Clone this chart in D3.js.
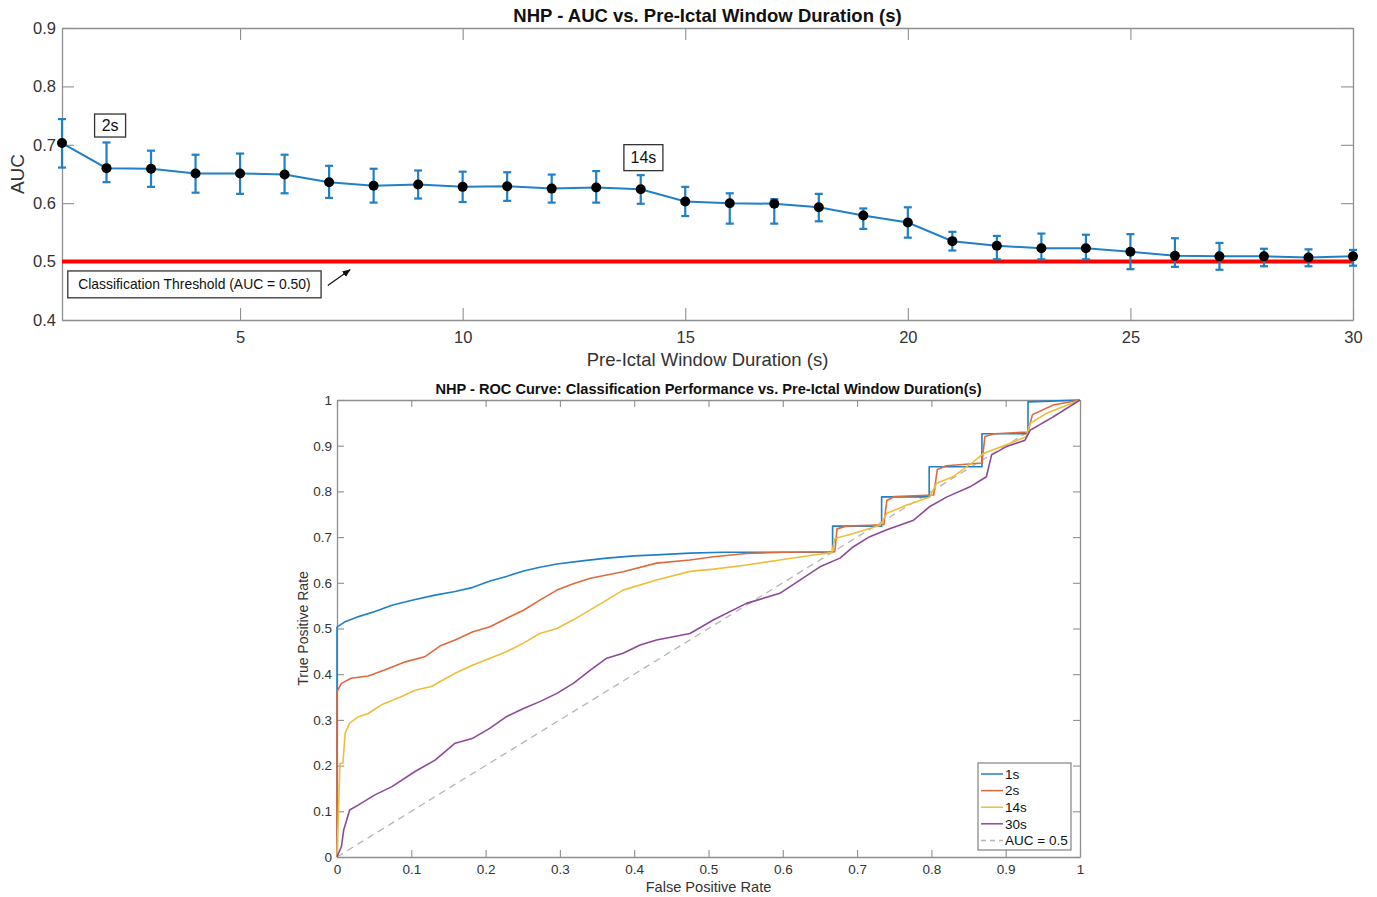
<!DOCTYPE html>
<html><head><meta charset="utf-8">
<script src="https://cdn.jsdelivr.net/npm/d3@7"></script>
<style>
body{margin:0;background:#fff}
text{font-family:"Liberation Sans", Arial, Helvetica, sans-serif}
</style>
</head><body>
<svg id="c" width="1377" height="897"></svg>
<script>
// ---------- Top chart data ----------
const durations = [1,2,3,4,5,6,7,8,9,10,11,12,13,14,15,16,17,18,19,20,21,22,23,24,25,26,27,28,29,30];
const aucMean  = [0.703,0.660,0.659,0.651,0.651,0.649,0.636,0.630,0.632,0.628,0.629,0.625,0.627,0.624,0.603,0.600,0.599,0.593,0.579,0.567,0.535,0.527,0.523,0.523,0.517,0.510,0.509,0.509,0.507,0.509];
const aucUpper = [0.744,0.704,0.690,0.683,0.685,0.683,0.664,0.659,0.656,0.654,0.653,0.649,0.655,0.648,0.628,0.617,0.607,0.616,0.591,0.593,0.551,0.544,0.548,0.546,0.547,0.540,0.532,0.522,0.521,0.520];
const aucLower = [0.661,0.636,0.628,0.618,0.616,0.617,0.609,0.601,0.608,0.602,0.604,0.601,0.601,0.599,0.578,0.565,0.565,0.569,0.556,0.541,0.519,0.504,0.504,0.504,0.487,0.491,0.486,0.492,0.492,0.493];
const topXTicks = [5,10,15,20,25,30];
const topYTicks = [0.4,0.5,0.6,0.7,0.8,0.9];
const thresholdAUC = 0.5;
const topTitle = "NHP - AUC vs. Pre-Ictal Window Duration (s)";
const topXLabel = "Pre-Ictal Window Duration (s)";
const topYLabel = "AUC";
const thresholdLabel = "Classification Threshold (AUC = 0.50)";

// ---------- Bottom chart data (ROC curves: [FPR, TPR]) ----------
const roc1s = [[0,0],[0,0.503],[0.011,0.515],[0.029,0.526],[0.051,0.537],[0.074,0.551],[0.101,0.562],[0.132,0.573],[0.159,0.581],[0.183,0.590],[0.206,0.604],[0.228,0.614],[0.251,0.626],[0.273,0.634],[0.296,0.641],[0.33,0.648],[0.363,0.654],[0.40,0.659],[0.43,0.661],[0.475,0.665],[0.52,0.667],[0.667,0.667],[0.667,0.724],[0.733,0.724],[0.733,0.788],[0.797,0.788],[0.797,0.854],[0.868,0.854],[0.868,0.926],[0.930,0.926],[0.930,0.996],[0.97,0.998],[1,1]];
const roc2s = [[0,0],[0,0.362],[0.006,0.380],[0.019,0.391],[0.042,0.396],[0.064,0.409],[0.092,0.427],[0.118,0.438],[0.139,0.462],[0.159,0.475],[0.183,0.493],[0.206,0.504],[0.228,0.522],[0.251,0.540],[0.273,0.562],[0.296,0.584],[0.318,0.598],[0.341,0.610],[0.385,0.624],[0.43,0.643],[0.475,0.650],[0.507,0.657],[0.551,0.664],[0.60,0.667],[0.670,0.668],[0.673,0.718],[0.685,0.724],[0.736,0.727],[0.740,0.780],[0.750,0.789],[0.803,0.792],[0.808,0.848],[0.820,0.856],[0.868,0.862],[0.872,0.920],[0.885,0.926],[0.930,0.930],[0.936,0.968],[0.964,0.989],[1,1]];
const roc14s = [[0,0],[0.004,0.205],[0.008,0.205],[0.011,0.271],[0.017,0.293],[0.029,0.307],[0.042,0.314],[0.060,0.333],[0.087,0.351],[0.105,0.365],[0.127,0.373],[0.159,0.402],[0.183,0.420],[0.206,0.435],[0.228,0.449],[0.251,0.468],[0.273,0.489],[0.296,0.500],[0.318,0.519],[0.363,0.562],[0.385,0.584],[0.43,0.606],[0.475,0.625],[0.507,0.630],[0.551,0.639],[0.596,0.650],[0.641,0.661],[0.666,0.666],[0.670,0.697],[0.695,0.708],[0.731,0.726],[0.740,0.752],[0.767,0.770],[0.798,0.788],[0.807,0.818],[0.829,0.832],[0.857,0.865],[0.870,0.883],[0.901,0.902],[0.928,0.920],[0.933,0.949],[0.955,0.971],[1,1]];
const roc30s = [[0,0],[0.006,0.023],[0.009,0.059],[0.013,0.081],[0.017,0.103],[0.029,0.114],[0.051,0.136],[0.074,0.154],[0.105,0.187],[0.132,0.212],[0.159,0.249],[0.183,0.260],[0.206,0.282],[0.228,0.307],[0.251,0.325],[0.273,0.340],[0.296,0.358],[0.318,0.380],[0.341,0.409],[0.363,0.435],[0.385,0.446],[0.408,0.464],[0.430,0.475],[0.475,0.489],[0.507,0.519],[0.551,0.555],[0.596,0.577],[0.623,0.606],[0.650,0.635],[0.677,0.654],[0.695,0.679],[0.717,0.701],[0.740,0.716],[0.776,0.737],[0.798,0.767],[0.821,0.788],[0.852,0.810],[0.874,0.832],[0.881,0.880],[0.901,0.898],[0.926,0.912],[0.933,0.934],[0.964,0.963],[1,1]];
const chanceLine = [[0,0],[1,1]];
const rocNames = ["1s","2s","14s","30s"];
const rocColors = ["#1f80c8","#de6a3c","#eebd3a","#8a4a98"];
const rocTicks = [0,0.1,0.2,0.3,0.4,0.5,0.6,0.7,0.8,0.9,1];
const bottomTitle = "NHP - ROC Curve: Classification Performance vs. Pre-Ictal Window Duration(s)";
const bottomXLabel = "False Positive Rate";
const bottomYLabel = "True Positive Rate";
const chanceName = "AUC = 0.5";

const svg = d3.select("#c");
const AX = "#8f8f8f", TXT = "#333";
const fmt = d => String(d);

function frame(g, x, y, xt, yt, tlen, fs) {
  const b = g.append("g").attr("transform", `translate(0,${y.range()[0]})`)
    .call(d3.axisBottom(x).tickValues(xt).tickSize(-tlen).tickSizeOuter(0).tickFormat(fmt));
  const l = g.append("g").attr("transform", `translate(${x.range()[0]},0)`)
    .call(d3.axisLeft(y).tickValues(yt).tickSize(-tlen).tickSizeOuter(0).tickPadding(7).tickFormat(fmt));
  const t = g.append("g").attr("transform", `translate(0,${y.range()[1]})`)
    .call(d3.axisTop(x).tickValues(xt).tickSize(-tlen).tickSizeOuter(0).tickFormat(""));
  const r = g.append("g").attr("transform", `translate(${x.range()[1]},0)`)
    .call(d3.axisRight(y).tickValues(yt).tickSize(-tlen).tickSizeOuter(0).tickFormat(""));
  [b,l,t,r].forEach(a => {
    a.selectAll("path.domain").attr("stroke", AX).attr("stroke-width", 1.3);
    a.selectAll(".tick line").attr("stroke", AX).attr("stroke-width", 1.1);
    a.selectAll(".tick text").attr("fill", TXT).attr("font-size", fs).attr("font-family", '"Liberation Sans", Arial, sans-serif');
  });
  return {b, l};
}

// ================= TOP CHART =================
const T = {l:62, r:1353, t:28, b:320};
const xT = d3.scaleLinear().domain([1,30]).range([T.l, T.r]);
const yT = d3.scaleLinear().domain([0.4,0.9]).range([T.b, T.t]);
const gT = svg.append("g");
const fT = frame(gT, xT, yT, topXTicks, topYTicks, 12, 16.5);
fT.b.selectAll(".tick text").attr("dy","0.71em").attr("y", 11);
fT.l.selectAll(".tick text").attr("x", -6);

gT.append("line").attr("x1", xT(1)).attr("x2", xT(30)).attr("y1", yT(thresholdAUC)).attr("y2", yT(thresholdAUC))
  .attr("stroke", "#ff0000").attr("stroke-width", 4);

const topData = durations.map((d,i) => ({x:d, m:aucMean[i], u:aucUpper[i], lo:aucLower[i]}));
gT.append("path").datum(topData).attr("fill","none").attr("stroke","#1f80c8").attr("stroke-width",2)
  .attr("d", d3.line().x(d=>xT(d.x)).y(d=>yT(d.m)));
const eb = gT.append("g").attr("stroke","#1f80c8").attr("stroke-width",2.2).attr("fill","none");
topData.forEach(d => {
  eb.append("line").attr("x1",xT(d.x)).attr("x2",xT(d.x)).attr("y1",yT(d.u)).attr("y2",yT(d.lo));
  eb.append("line").attr("x1",xT(d.x)-4).attr("x2",xT(d.x)+4).attr("y1",yT(d.u)).attr("y2",yT(d.u));
  eb.append("line").attr("x1",xT(d.x)-4).attr("x2",xT(d.x)+4).attr("y1",yT(d.lo)).attr("y2",yT(d.lo));
});
gT.append("g").selectAll("circle").data(topData).join("circle")
  .attr("cx", d=>xT(d.x)).attr("cy", d=>yT(d.m)).attr("r", 5).attr("fill","#000");

function boxLabel(g, cx, cy, w, h, txt, fs) {
  g.append("rect").attr("x", cx-w/2).attr("y", cy-h/2).attr("width", w).attr("height", h)
    .attr("fill","#fff").attr("stroke","#333").attr("stroke-width",1.3);
  g.append("text").attr("x", cx).attr("y", cy).attr("dy","0.36em").attr("text-anchor","middle")
    .attr("font-size", fs).attr("fill","#111").text(txt);
}
boxLabel(gT, xT(2.08), yT(0.733), 31, 23, "2s", 16);
boxLabel(gT, xT(14.06), yT(0.678), 39, 26, "14s", 16);
boxLabel(gT, (xT(1.13)+xT(6.82))/2, (yT(0.484)+yT(0.438))/2, xT(6.82)-xT(1.13), yT(0.438)-yT(0.484), thresholdLabel, 13.9);
svg.append("defs").append("marker").attr("id","ah").attr("viewBox","0 0 10 10").attr("refX",9).attr("refY",5)
  .attr("markerWidth",7).attr("markerHeight",7).attr("orient","auto")
  .append("path").attr("d","M0,1 L10,5 L0,9 Z").attr("fill","#111");
gT.append("line").attr("x1", xT(6.97)).attr("y1", yT(0.459)).attr("x2", xT(7.47)).attr("y2", yT(0.486))
  .attr("stroke","#111").attr("stroke-width",1.2).attr("marker-end","url(#ah)");

gT.append("text").attr("x",(T.l+T.r)/2).attr("y",22).attr("text-anchor","middle").attr("font-weight","bold")
  .attr("font-size",18.5).attr("fill","#111").text(topTitle);
gT.append("text").attr("x",(T.l+T.r)/2).attr("y",366).attr("text-anchor","middle")
  .attr("font-size",18.5).attr("fill",TXT).text(topXLabel);
gT.append("text").attr("transform",`translate(24,${(T.t+T.b)/2}) rotate(-90)`).attr("text-anchor","middle")
  .attr("font-size",19).attr("fill",TXT).text(topYLabel);

// ================= BOTTOM CHART =================
const B = {l:337, r:1080, t:400, b:857};
const xB = d3.scaleLinear().domain([0,1]).range([B.l, B.r]);
const yB = d3.scaleLinear().domain([0,1]).range([B.b, B.t]);
const gB = svg.append("g");
const fB = frame(gB, xB, yB, rocTicks, rocTicks, 7, 13.5);
fB.b.selectAll(".tick text").attr("dy","0.71em").attr("y", 7);
fB.l.selectAll(".tick text").attr("x", -5);

const lineB = d3.line().x(d=>xB(d[0])).y(d=>yB(d[1]));
gB.append("path").datum(chanceLine).attr("fill","none").attr("stroke","#b5b5b5").attr("stroke-width",1.3)
  .attr("stroke-dasharray","7,5").attr("d", lineB);
const rocSeries = [roc1s, roc2s, roc14s, roc30s];
rocSeries.forEach((s,i) => {
  gB.append("path").datum(s).attr("fill","none").attr("stroke", rocColors[i]).attr("stroke-width",1.6)
    .attr("stroke-linejoin","round").attr("d", lineB);
});

gB.append("text").attr("x",(B.l+B.r)/2).attr("y",394).attr("text-anchor","middle").attr("font-weight","bold")
  .attr("font-size",14.6).attr("fill","#111").text(bottomTitle);
gB.append("text").attr("x",(B.l+B.r)/2).attr("y",892).attr("text-anchor","middle")
  .attr("font-size",14.6).attr("fill",TXT).text(bottomXLabel);
gB.append("text").attr("transform",`translate(308,${(B.t+B.b)/2}) rotate(-90)`).attr("text-anchor","middle")
  .attr("font-size",14).attr("fill",TXT).text(bottomYLabel);

const lg = gB.append("g");
lg.append("rect").attr("x",978).attr("y",763).attr("width",93).attr("height",87).attr("fill","#fff")
  .attr("stroke","#777").attr("stroke-width",1.1);
const legItems = rocNames.map((n,i)=>({name:n, color:rocColors[i], dash:null}))
  .concat([{name:chanceName, color:"#b5b5b5", dash:"5,4"}]);
legItems.forEach((it,i) => {
  const yy = 774 + i*16.6;
  lg.append("line").attr("x1",981).attr("x2",1003).attr("y1",yy).attr("y2",yy)
    .attr("stroke",it.color).attr("stroke-width",1.5).attr("stroke-dasharray",it.dash);
  lg.append("text").attr("x",1005).attr("y",yy).attr("dy","0.36em").attr("font-size",13.5).attr("fill","#111").text(it.name);
});
</script>
</body></html>
